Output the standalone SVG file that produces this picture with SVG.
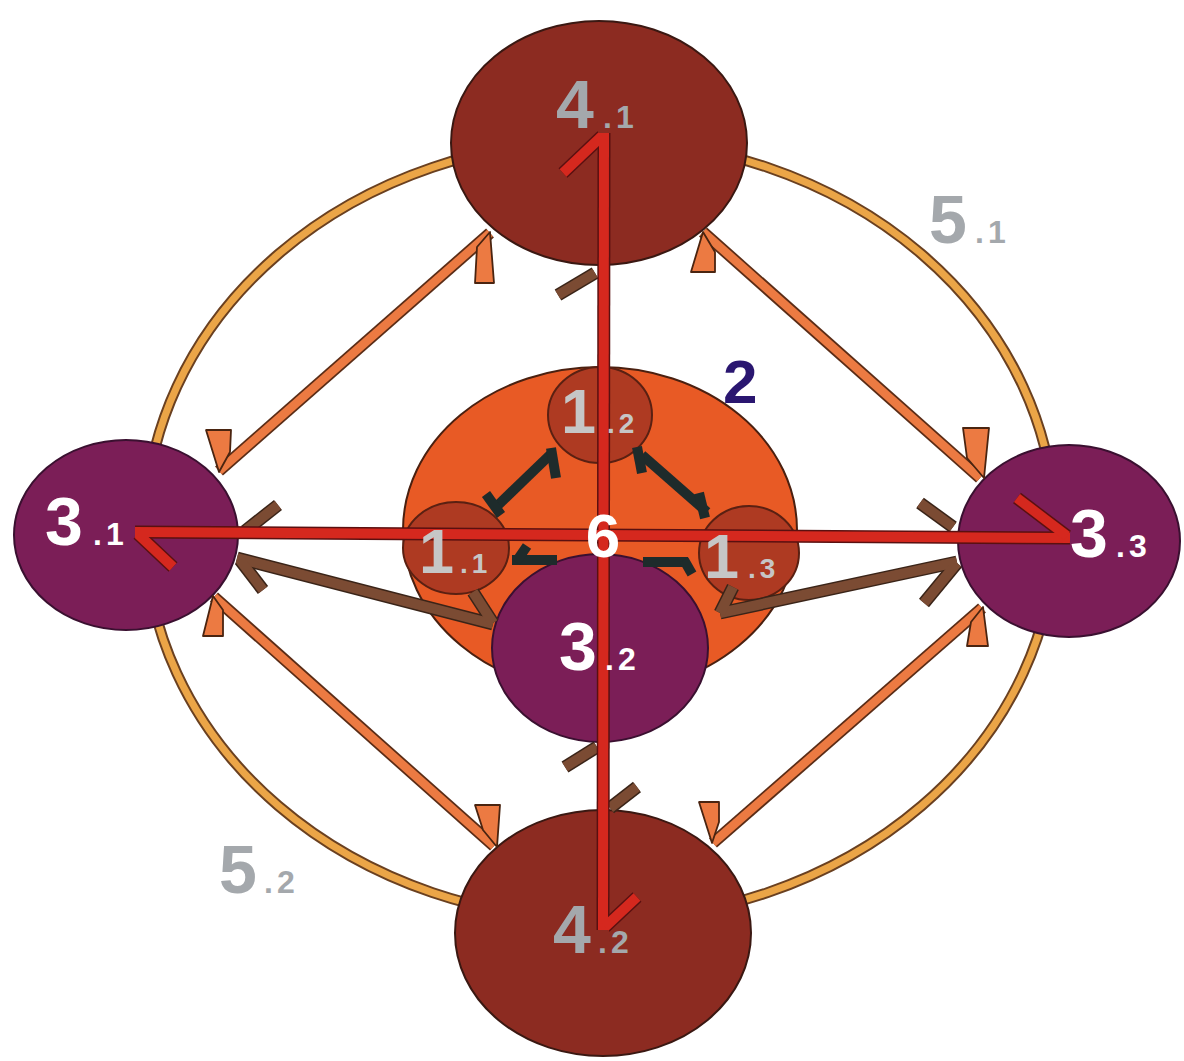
<svg xmlns="http://www.w3.org/2000/svg" width="1184" height="1061" viewBox="0 0 1184 1061">
<style>
.lbl{font-family:"Liberation Sans",Arial,sans-serif;font-weight:bold}
.big{font-size:68px}
.sm{font-size:32px;letter-spacing:4px}
.one{font-size:63px}
.sm1{font-size:28px;letter-spacing:4px}
.grey{fill:#A4A8AC}
.lgrey{fill:#C6C6C6}
.white{fill:#FFFFFF}
.n4{fill:#8C2B21;stroke:#3A1812;stroke-width:2}
.n3{fill:#7B1E57;stroke:#3A1030;stroke-width:2}
.n2{fill:#E85A25;stroke:#4A2010;stroke-width:2}
.n1{fill:#AE3A22;stroke:#5A2012;stroke-width:2}
.ringo{fill:none;stroke:#6A4020;stroke-width:11}
.ringi{fill:none;stroke:#EBA547;stroke-width:7}
.oo{stroke:#5A2C16;stroke-width:12;stroke-linecap:butt}
.oi{stroke:#EC7A42;stroke-width:8.5;stroke-linecap:butt}
.ob{fill:#EC7A42;stroke:#4A2410;stroke-width:1.8;stroke-linejoin:round}
.bo{stroke:#3A2418;stroke-width:13;stroke-linecap:butt}
.bi{stroke:#7B4B33;stroke-width:10;stroke-linecap:butt}
.ro{stroke:#5A1010;stroke-width:13;stroke-linecap:butt}
.ri{stroke:#D5281E;stroke-width:10;stroke-linecap:butt}
.dk{stroke:#1E2B2B;stroke-width:10;stroke-linecap:butt}
</style>
<rect width="1184" height="1061" fill="#FFFFFF"/>

<g id="node-5">
<ellipse class="ringo" cx="600" cy="530" rx="455" ry="390"/>
<ellipse class="ringi" cx="600" cy="530" rx="455" ry="390"/>
</g>

<g id="node-4-1"><ellipse class="n4" cx="599" cy="143" rx="148" ry="122"/></g>
<g id="node-4-2"><ellipse class="n4" cx="603" cy="933" rx="148" ry="123"/></g>
<g id="node-3-1"><ellipse class="n3" cx="126" cy="535" rx="112" ry="95"/></g>
<g id="node-3-3"><ellipse class="n3" cx="1069" cy="541" rx="111" ry="96"/></g>
<g id="node-2"><ellipse class="n2" cx="600" cy="530" rx="197" ry="163"/></g>
<g id="node-1-2"><ellipse class="n1" cx="600" cy="415" rx="52" ry="48"/></g>
<g id="node-1-1"><ellipse class="n1" cx="456" cy="548" rx="53" ry="46"/></g>
<g id="node-1-3"><ellipse class="n1" cx="749" cy="553" rx="50" ry="47"/></g>
<g id="node-3-2"><ellipse class="n3" cx="600" cy="648" rx="108" ry="94"/></g>

<g id="connectors">
<!-- orange diagonal arrows (outer) -->
<line class="oo" x1="490" y1="233" x2="219" y2="471"/>
<line class="oi" x1="490" y1="233" x2="219" y2="471"/>
<polygon class="ob" points="490,232 494,283 475,283 477,247"/>
<polygon class="ob" points="206,430 231,430 230,452 219,472"/>

<line class="oo" x1="703" y1="232" x2="980" y2="478"/>
<line class="oi" x1="703" y1="232" x2="980" y2="478"/>
<polygon class="ob" points="703,232 715,252 715,272 691,272"/>
<polygon class="ob" points="963,428 989,428 984,478 967,458"/>

<line class="oo" x1="214" y1="597" x2="494" y2="846"/>
<line class="oi" x1="214" y1="597" x2="494" y2="846"/>
<polygon class="ob" points="213,596 223,610 223,636 203,636"/>
<polygon class="ob" points="475,805 500,805 497,847 483,830"/>

<line class="oo" x1="982" y1="608" x2="713" y2="843"/>
<line class="oi" x1="982" y1="608" x2="713" y2="843"/>
<polygon class="ob" points="983,607 988,646 967,646 971,622"/>
<polygon class="ob" points="699,802 719,802 719,822 712,843"/>

<!-- dark triangle arrows -->
<line class="dk" x1="552" y1="453" x2="495" y2="508"/>
<line class="dk" x1="486" y1="494" x2="501" y2="515"/>
<line class="dk" x1="551" y1="448" x2="556" y2="478"/>
<line class="dk" x1="642" y1="455" x2="707" y2="512"/>
<line class="dk" x1="637" y1="447" x2="642" y2="473"/>
<line class="dk" x1="699" y1="493" x2="705" y2="518"/>
<line class="dk" x1="512" y1="560" x2="557" y2="560"/>
<line class="dk" x1="516" y1="562" x2="527" y2="546"/>
<line class="dk" x1="643" y1="562" x2="688" y2="562"/>
<line class="dk" x1="684" y1="560" x2="692" y2="574"/>

<!-- brown arrows -->
<line class="bo" x1="493" y1="624" x2="237" y2="558"/>
<line class="bo" x1="240" y1="560" x2="263" y2="590"/>
<line class="bo" x1="473" y1="592" x2="493" y2="623"/>
<line class="bi" x1="493" y1="624" x2="237" y2="558"/>
<line class="bi" x1="240" y1="560" x2="263" y2="590"/>
<line class="bi" x1="473" y1="592" x2="493" y2="623"/>

<line class="bo" x1="720" y1="613" x2="957" y2="562"/>
<line class="bo" x1="957" y1="563" x2="924" y2="603"/>
<line class="bo" x1="720" y1="613" x2="733" y2="587"/>
<line class="bi" x1="720" y1="613" x2="957" y2="562"/>
<line class="bi" x1="957" y1="563" x2="924" y2="603"/>
<line class="bi" x1="720" y1="613" x2="733" y2="587"/>

<line class="bo" x1="558" y1="295" x2="595" y2="273"/>
<line class="bi" x1="558" y1="295" x2="595" y2="273"/>
<line class="bo" x1="565" y1="767" x2="597" y2="747"/>
<line class="bi" x1="565" y1="767" x2="597" y2="747"/>
<line class="bo" x1="610" y1="808" x2="637" y2="787"/>
<line class="bi" x1="610" y1="808" x2="637" y2="787"/>
<line class="bo" x1="245" y1="531" x2="278" y2="505"/>
<line class="bi" x1="245" y1="531" x2="278" y2="505"/>
<line class="bo" x1="920" y1="503" x2="953" y2="527"/>
<line class="bi" x1="920" y1="503" x2="953" y2="527"/>

<!-- red cross (6) -->
<line class="ro" x1="135" y1="532" x2="1070" y2="538"/>
<line class="ro" x1="138" y1="534" x2="173" y2="567"/>
<line class="ro" x1="1067" y1="536" x2="1017" y2="498"/>
<line class="ro" x1="604" y1="133" x2="603" y2="930"/>
<line class="ro" x1="602" y1="136" x2="563" y2="173"/>
<line class="ro" x1="605" y1="927" x2="637" y2="897"/>
<line class="ri" x1="135" y1="532" x2="1070" y2="538"/>
<line class="ri" x1="138" y1="534" x2="173" y2="567"/>
<line class="ri" x1="1067" y1="536" x2="1017" y2="498"/>
<line class="ri" x1="604" y1="133" x2="603" y2="930"/>
<line class="ri" x1="602" y1="136" x2="563" y2="173"/>
<line class="ri" x1="605" y1="927" x2="637" y2="897"/>
</g>

<g id="labels">
<text class="lbl grey"><tspan class="big" x="556" y="128">4</tspan><tspan class="sm" x="603" y="128">.1</tspan></text>
<text class="lbl grey"><tspan class="big" x="553" y="953">4</tspan><tspan class="sm" x="598" y="953">.2</tspan></text>
<text class="lbl grey" fill="#9C9C9C"><tspan class="big" x="929" y="243">5</tspan><tspan class="sm" x="975" y="243">.1</tspan></text>
<text class="lbl grey" fill="#9C9C9C"><tspan class="big" x="219" y="893">5</tspan><tspan class="sm" x="264" y="893">.2</tspan></text>
<text class="lbl white"><tspan class="big" x="45" y="545">3</tspan><tspan class="sm" x="93" y="545">.1</tspan></text>
<text class="lbl white"><tspan class="big" x="1070" y="557">3</tspan><tspan class="sm" x="1116" y="557">.3</tspan></text>
<text class="lbl white"><tspan class="big" x="559" y="670">3</tspan><tspan class="sm" x="605" y="670">.2</tspan></text>
<text class="lbl lgrey"><tspan class="one" x="561" y="433">1</tspan><tspan class="sm1" x="607" y="433">.2</tspan></text>
<text class="lbl lgrey"><tspan class="one" x="419" y="573">1</tspan><tspan class="sm1" x="460" y="573">.1</tspan></text>
<text class="lbl lgrey"><tspan class="one" x="704" y="578">1</tspan><tspan class="sm1" x="748" y="578">.3</tspan></text>
<text class="lbl" x="723" y="403" font-size="62" fill="#2A1670">2</text>
<text class="lbl white" x="603" y="557" font-size="62" text-anchor="middle">6</text>
</g>
</svg>
